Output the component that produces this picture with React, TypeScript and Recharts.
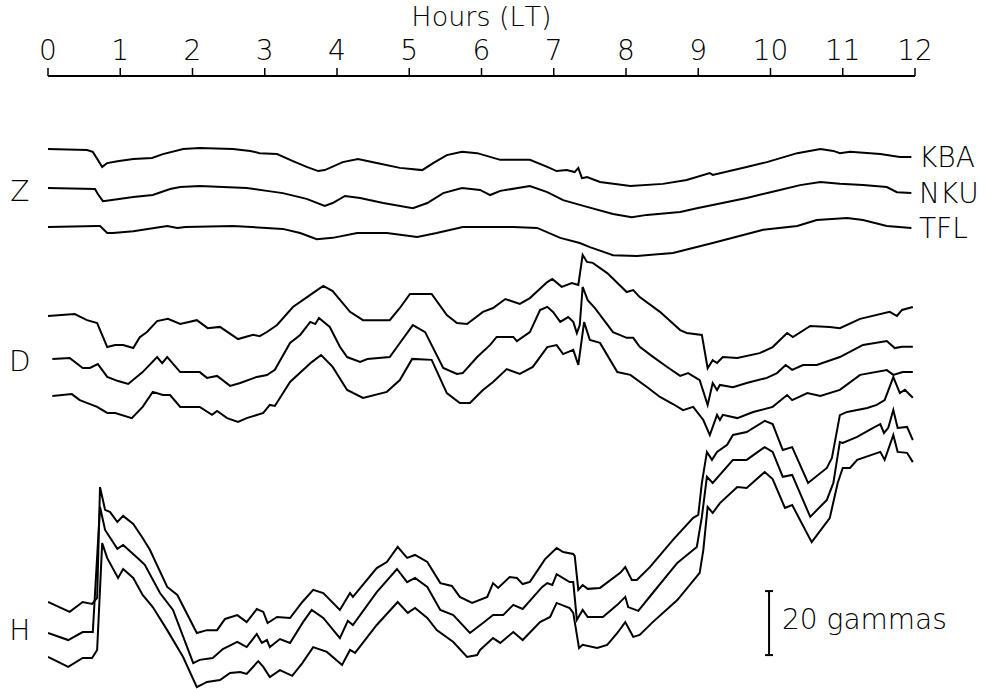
import React from 'react';
import { LineChart, Line, XAxis, YAxis, ReferenceDot, ReferenceLine } from 'recharts';

const FONT = '"DejaVu Sans", "Liberation Sans", sans-serif';

// hours of local time on the top axis
const HOURS = [0, 1, 2, 3, 4, 5, 6, 7, 8, 9, 10, 11, 12];

type Pt = [number, number]; // [hour LT, deflection in gammas from trace baseline]

// ---- Z component ----
const Z_KBA: Pt[] = [
  [0, 0], [0.54, -0.3], [0.62, -0.9], [0.69, -3.4], [0.75, -5.6], [0.82, -4.4], [0.96, -3.8], [1.18, -3.1],
  [1.44, -2.8], [1.59, -1.6], [1.87, 0], [2.1, 0.3], [2.56, 0], [2.8, -0.6], [2.93, -1.3], [3.17, -1.6],
  [3.39, -3.8], [3.58, -5.6], [3.74, -6.9], [3.83, -6.6], [4.08, -4.1], [4.29, -3.1], [4.55, -4.4], [4.87, -5.9],
  [5.18, -6.6], [5.33, -4.4], [5.52, -1.9], [5.73, -0.9], [5.94, -1.3], [6.26, -3.4], [6.67, -3.4], [6.91, -5.6],
  [7.04, -6.9], [7.18, -6.6], [7.29, -7.2], [7.34, -5.9], [7.39, -9.1], [7.46, -8.8], [7.64, -10.3], [8.06, -11.6],
  [8.51, -10.9], [8.84, -9.7], [9.16, -7.5], [9.2, -8.1], [9.67, -5.6], [9.95, -4.1], [10.37, -1.3], [10.69, 0],
  [10.87, -0.6], [10.96, -1.3], [11.1, -0.9], [11.52, -1.6], [11.79, -2.5], [11.95, -2.5],
];
const Z_NKU: Pt[] = [
  [0, 0], [0.65, -0.3], [0.69, -1.9], [0.76, -4.1], [0.86, -3.8], [1.18, -2.8], [1.45, -2.2], [1.69, -0.3],
  [1.83, 0.3], [2.1, 0.6], [2.75, 0], [3.03, -0.9], [3.25, -1.6], [3.58, -3.4], [3.83, -5.6], [3.94, -4.7],
  [4.11, -2.5], [4.32, -3.1], [4.64, -4.7], [5.05, -6.3], [5.25, -4.7], [5.47, -1.6], [5.73, 0], [5.98, -0.6],
  [6.12, -2.2], [6.26, -0.9], [6.67, 0.6], [6.91, -1.3], [7.13, -3.8], [7.46, -5.9], [7.82, -8.1], [8.08, -9.1],
  [8.29, -8.4], [8.75, -7.5], [8.98, -6.3], [9.2, -5.3], [9.67, -3.1], [10.13, -0.6], [10.41, 0.9], [10.69, 1.9],
  [10.96, 1.3], [11.28, 0.9], [11.61, 0.3], [11.75, -1.3], [11.95, -1.6],
];
const Z_TFL: Pt[] = [
  [0, 0], [0.68, 0.3], [0.72, 0.3], [0.82, -1.9], [0.9, -1.9], [1.18, -1.3], [1.65, 0.3], [1.79, -0.3],
  [1.9, 0], [2.56, 0.3], [3.25, -0.6], [3.49, -1.9], [3.72, -3.8], [3.94, -3.4], [4.28, -1.9], [4.69, -1.9],
  [5.11, -3.1], [5.38, -1.9], [5.74, 0], [6.12, 0], [6.44, 0], [6.77, -0.3], [7.09, -3.4], [7.36, -5.0],
  [7.5, -6.3], [7.82, -8.8], [8.15, -9.1], [8.65, -8.1], [9.2, -5.0], [9.9, -0.9], [10.37, 0.3], [10.64, 2.2],
  [11.06, 2.8], [11.28, 2.2], [11.61, 0.3], [11.95, -0.3],
];

// ---- D component ----
const D_KBA: Pt[] = [
  [0, 0], [0.37, 0.6], [0.54, -1.3], [0.68, -2.2], [0.82, -9.7], [0.93, -9.1], [1.04, -9.1], [1.18, -10.0],
  [1.27, -6.6], [1.37, -5.0], [1.51, -1.6], [1.66, -0.9], [1.83, -2.5], [2.06, -1.3], [2.21, -3.8], [2.38, -3.4],
  [2.63, -7.2], [2.84, -5.9], [2.93, -6.3], [3.03, -5.0], [3.17, -2.8], [3.39, 2.8], [3.65, 6.9], [3.81, 9.4],
  [3.94, 7.8], [4.18, 1.3], [4.36, -1.3], [4.73, -1.3], [4.87, 2.5], [5.01, 6.9], [5.31, 6.9], [5.52, 0.3],
  [5.66, -2.2], [5.8, -2.5], [6.02, 1.3], [6.16, 2.5], [6.33, 5.3], [6.53, 3.8], [6.67, 5.6], [6.91, 10.6],
  [6.98, 11.6], [7.11, 9.1], [7.25, 10.3], [7.34, 9.7], [7.4, 19.1], [7.46, 16.9], [7.54, 16.6], [7.74, 13.4],
  [8.01, 7.5], [8.1, 8.1], [8.19, 5.9], [8.47, 1.3], [8.75, -4.4], [8.84, -5.3], [9.05, -5.9], [9.13, -16.3],
  [9.2, -13.8], [9.26, -14.7], [9.34, -12.8], [9.54, -13.1], [9.85, -11.6], [10.03, -9.7], [10.23, -5.3], [10.31, -6.6],
  [10.55, -3.1], [10.82, -3.4], [10.96, -3.8], [11.24, -0.9], [11.65, 1.3], [11.75, 0], [11.82, 1.9], [11.97, 2.8],
];
const D_NKU: Pt[] = [
  [0.06, 0], [0.3, 0.3], [0.48, -2.8], [0.58, -2.8], [0.69, -1.6], [0.82, -5.6], [0.97, -6.9], [1.11, -7.8],
  [1.31, -4.1], [1.51, 0.6], [1.58, -1.3], [1.65, 0.6], [1.83, -4.1], [2.1, -4.1], [2.2, -5.9], [2.34, -5.3],
  [2.52, -8.4], [2.66, -7.5], [2.89, -5.6], [3.03, -5.0], [3.14, -3.4], [3.35, 5.0], [3.49, 7.5], [3.63, 11.6],
  [3.7, 10.9], [3.75, 12.8], [3.9, 10.0], [4.04, 3.8], [4.14, 0.6], [4.32, -0.9], [4.42, 0], [4.73, 0.6],
  [4.87, 5.0], [5.05, 10.6], [5.22, 8.4], [5.47, -2.8], [5.66, -4.7], [5.74, -4.4], [5.94, 0.6], [6.12, 4.4],
  [6.21, 6.9], [6.44, 6.9], [6.49, 5.6], [6.67, 8.4], [6.81, 15.3], [6.91, 16.3], [6.99, 14.7], [7.09, 11.6],
  [7.2, 13.1], [7.27, 11.6], [7.32, 8.1], [7.36, 10.6], [7.4, 22.5], [7.47, 18.4], [7.57, 15.9], [7.82, 8.4],
  [8.01, 6.6], [8.1, 6.6], [8.19, 3.8], [8.36, 0.9], [8.57, -2.5], [8.75, -5.3], [8.86, -4.4], [9.02, -6.6],
  [9.13, -14.4], [9.2, -7.5], [9.26, -9.7], [9.3, -8.1], [9.48, -8.8], [9.67, -7.5], [9.95, -5.9], [10.09, -4.4],
  [10.21, -1.9], [10.3, -3.4], [10.45, -1.9], [10.64, -1.9], [10.96, 0.6], [11.28, 4.4], [11.61, 5.6], [11.72, 3.4],
  [11.82, 3.8], [11.97, 3.8],
];
const D_TFL: Pt[] = [
  [0.06, 0], [0.33, 0.6], [0.44, -1.3], [0.68, -3.4], [0.82, -5.3], [0.93, -5.3], [1.16, -6.9], [1.31, -3.4],
  [1.45, 1.3], [1.59, 0.3], [1.69, 0.3], [1.83, -3.4], [2.1, -3.4], [2.27, -5.9], [2.34, -4.7], [2.48, -6.9],
  [2.63, -8.1], [2.75, -6.9], [2.98, -5.3], [3.07, -2.8], [3.14, -3.1], [3.35, 4.4], [3.65, 10.6], [3.78, 12.8],
  [3.94, 9.1], [4.14, 1.9], [4.36, -0.6], [4.69, 1.3], [4.87, 5.0], [5.04, 11.6], [5.31, 11.3], [5.52, 0.9],
  [5.7, -2.2], [5.84, -2.2], [6.02, 1.9], [6.16, 4.4], [6.35, 8.4], [6.53, 6.9], [6.71, 9.1], [6.91, 15.3],
  [7.04, 15.9], [7.13, 13.1], [7.27, 14.4], [7.34, 9.7], [7.42, 23.1], [7.5, 17.5], [7.64, 16.6], [7.88, 7.5],
  [8.06, 6.6], [8.29, 2.8], [8.47, -0.3], [8.65, -2.5], [8.79, -4.4], [8.93, -3.4], [9.07, -7.5], [9.16, -12.2],
  [9.26, -5.9], [9.3, -7.5], [9.34, -5.9], [9.54, -6.9], [9.76, -5.0], [10.03, -3.4], [10.23, 0.3], [10.3, -1.3],
  [10.51, 0.9], [10.69, 0], [10.96, 1.9], [11.24, 6.6], [11.61, 8.1], [11.7, 6.6], [11.83, 7.5], [11.97, 7.5],
];

// ---- H component ----
const H_KBA: Pt[] = [
  [0, 0], [0.3, -3.1], [0.48, 0], [0.61, -0.6], [0.68, 1.3], [0.72, 35.9], [0.79, 28.8], [0.86, 28.1],
  [0.96, 25.0], [1.04, 26.9], [1.18, 24.4], [1.31, 20.0], [1.41, 16.3], [1.65, 4.7], [1.79, 2.2], [2.06, -9.7],
  [2.2, -8.8], [2.34, -8.8], [2.45, -5.3], [2.62, -4.1], [2.75, -6.3], [2.89, -2.2], [2.98, -3.1], [3.04, -6.6],
  [3.17, -4.7], [3.35, -5.0], [3.52, 0], [3.67, 3.8], [3.81, 2.8], [4.04, -2.5], [4.18, 2.8], [4.22, 1.6],
  [4.55, 10.6], [4.69, 12.5], [4.84, 17.2], [4.97, 13.8], [5.08, 14.7], [5.25, 12.5], [5.43, 5.9], [5.59, 5.0],
  [5.7, 1.6], [5.87, -0.3], [6.08, 1.6], [6.16, 5.9], [6.23, 4.4], [6.39, 7.8], [6.49, 7.5], [6.57, 5.6],
  [6.67, 6.3], [6.88, 13.4], [7.04, 16.9], [7.13, 15.6], [7.27, 15.0], [7.29, 14.4], [7.34, 3.8], [7.4, 5.3],
  [7.47, 4.1], [7.64, 4.4], [7.92, 9.1], [7.99, 10.9], [8.08, 6.9], [8.15, 6.9], [8.33, 10.9], [8.65, 19.4],
  [8.93, 26.3], [9.0, 27.2], [9.05, 37.2], [9.12, 46.9], [9.19, 44.4], [9.26, 46.9], [9.4, 49.1], [9.48, 52.2],
  [9.67, 53.1], [9.92, 56.6], [10.03, 55.6], [10.17, 47.5], [10.3, 48.4], [10.52, 37.2], [10.78, 41.9], [10.85, 45.0],
  [10.96, 58.4], [11.06, 59.4], [11.34, 60.6], [11.47, 61.6], [11.58, 63.1], [11.7, 70.3], [11.79, 65.3], [11.86, 66.3],
  [11.97, 63.8],
];
const H_NKU: Pt[] = [
  [0, 0], [0.28, -2.2], [0.48, 0.3], [0.62, 0.3], [0.72, 39.4], [0.79, 32.2], [0.96, 26.3], [1.04, 27.5],
  [1.27, 22.8], [1.34, 21.3], [1.55, 12.5], [1.73, 7.2], [2.01, -9.4], [2.1, -8.4], [2.28, -7.8], [2.42, -5.0],
  [2.62, -2.8], [2.75, -4.4], [2.89, -0.3], [2.96, -3.1], [3.03, -2.2], [3.07, -4.4], [3.21, -1.9], [3.35, -3.1],
  [3.53, 3.4], [3.65, 7.2], [3.81, 4.7], [4.04, -1.6], [4.15, 3.8], [4.22, 2.5], [4.55, 12.8], [4.83, 20.0],
  [4.97, 15.9], [5.08, 17.2], [5.25, 14.4], [5.43, 7.2], [5.61, 5.6], [5.84, 0], [6.02, 3.1], [6.16, 5.6],
  [6.3, 5.6], [6.44, 8.8], [6.57, 7.5], [6.84, 14.4], [6.91, 15.6], [6.98, 15.0], [7.04, 18.4], [7.22, 15.9],
  [7.27, 15.9], [7.32, 4.1], [7.4, 7.2], [7.47, 5.0], [7.68, 5.0], [7.88, 8.8], [7.99, 11.3], [8.03, 8.1],
  [8.17, 6.9], [8.37, 12.5], [8.71, 21.9], [8.98, 26.9], [9.05, 36.3], [9.12, 48.8], [9.2, 46.9], [9.48, 54.1],
  [9.67, 54.1], [9.92, 58.1], [10.03, 56.6], [10.17, 48.8], [10.3, 49.4], [10.55, 36.3], [10.78, 41.6], [10.87, 46.9],
  [10.96, 59.7], [11.0, 59.4], [11.2, 61.3], [11.42, 64.1], [11.52, 65.3], [11.57, 62.5], [11.63, 64.1], [11.7, 69.7],
  [11.76, 64.1], [11.89, 64.4], [11.97, 60.3],
];
const H_TFL: Pt[] = [
  [0, 0], [0.28, -3.1], [0.48, -0.3], [0.61, -0.3], [0.68, 2.2], [0.75, 35.6], [0.82, 30.9], [0.97, 24.7],
  [1.04, 27.5], [1.18, 24.7], [1.31, 19.4], [1.45, 15.6], [1.65, 8.4], [1.87, 0], [2.06, -9.4], [2.2, -7.8],
  [2.38, -7.2], [2.52, -5.0], [2.66, -4.7], [2.75, -5.3], [2.91, -1.3], [2.98, -3.1], [3.07, -6.3], [3.21, -4.1],
  [3.38, -5.9], [3.52, -1.9], [3.67, 3.1], [3.86, 1.6], [4.07, -2.5], [4.18, 2.2], [4.25, 1.3], [4.55, 10.0],
  [4.84, 17.2], [4.98, 13.8], [5.08, 15.3], [5.25, 12.2], [5.38, 8.4], [5.61, 4.7], [5.8, 0], [5.94, 0.6],
  [5.98, 2.2], [6.16, 5.9], [6.26, 4.4], [6.44, 7.8], [6.57, 5.3], [6.81, 10.9], [6.95, 12.5], [7.04, 16.9],
  [7.22, 15.3], [7.27, 13.8], [7.35, 2.8], [7.4, 3.8], [7.6, 2.8], [7.74, 3.8], [7.88, 7.5], [7.99, 10.9],
  [8.1, 6.3], [8.19, 6.9], [8.37, 10.9], [8.71, 17.8], [9.02, 26.3], [9.07, 33.4], [9.13, 46.9], [9.2, 45.0],
  [9.3, 48.1], [9.54, 53.1], [9.67, 52.8], [9.92, 57.8], [10.03, 55.6], [10.2, 46.6], [10.3, 47.5], [10.57, 35.9],
  [10.82, 43.4], [10.93, 54.4], [11.0, 59.1], [11.1, 59.1], [11.2, 61.6], [11.52, 64.1], [11.58, 61.6], [11.7, 69.4],
  [11.76, 64.1], [11.89, 63.8], [11.97, 60.9],
];

// stacking offsets of each trace on the chart (gammas)
const Z_BASE = [168.75, 156.56, 144.38];
const D_BASE = [116.56, 103.13, 91.56];
const H_BASE = [27.19, 17.5, 10.0];

const STATIONS = ['KBA', 'NKU', 'TFL'];
const PANELS = ['Z', 'D', 'H'];
const PANEL_LABEL_Y = [155.6, 102.5, 18.4];
const PANEL_LABEL_T = -0.39;

// 20-gamma scale bar
const SCALE_T = 9.98;
const SCALE_Y = [10.6, 30.6];
const SCALE_CAP = 0.055;
const SCALE_LABEL_Y = 21.9;

const Y_DOMAIN: [number, number] = [0, 191.56];

const build = (pts: Pt[], base: number) => pts.map(([t, d]) => ({ t, v: base + d }));

const TRACES = [
  { id: 'Z-KBA', data: build(Z_KBA, Z_BASE[0]) },
  { id: 'Z-NKU', data: build(Z_NKU, Z_BASE[1]) },
  { id: 'Z-TFL', data: build(Z_TFL, Z_BASE[2]) },
  { id: 'D-KBA', data: build(D_KBA, D_BASE[0]) },
  { id: 'D-NKU', data: build(D_NKU, D_BASE[1]) },
  { id: 'D-TFL', data: build(D_TFL, D_BASE[2]) },
  { id: 'H-KBA', data: build(H_KBA, H_BASE[0]) },
  { id: 'H-NKU', data: build(H_NKU, H_BASE[1]) },
  { id: 'H-TFL', data: build(H_TFL, H_BASE[2]) },
];

const Z_TRACES = [Z_KBA, Z_NKU, Z_TFL];

const textStyle = { fontSize: 28, fill: '#000', fontFamily: FONT, fontWeight: 200 };

export default function App() {
  return (
    <div
      style={{
        position: 'absolute',
        left: 0,
        top: 0,
        width: 985,
        height: 689,
        background: '#fff',
        fontKerning: 'none',
      }}
    >
      <LineChart
        width={985}
        height={689}
        margin={{ top: 0, right: 70, bottom: 0, left: 48 }}
        style={{ fontFamily: FONT }}
      >
        <XAxis
          dataKey="t"
          type="number"
          orientation="top"
          domain={[0, 12]}
          ticks={HOURS}
          interval={0}
          allowDataOverflow
          height={76}
          tickSize={8}
          tickMargin={8}
          axisLine={{ stroke: '#000', strokeWidth: 2 }}
          tickLine={{ stroke: '#000', strokeWidth: 1.5 }}
          tick={textStyle}
          label={{ value: 'Hours (LT)', position: 'insideTop', offset: 7, ...textStyle, fontSize: 27 }}
        />
        <YAxis type="number" domain={Y_DOMAIN} allowDataOverflow hide />
        {TRACES.map((tr) => (
          <Line
            key={tr.id}
            data={tr.data}
            dataKey="v"
            type="linear"
            stroke="#000"
            strokeWidth={2}
            dot={false}
            activeDot={false}
            isAnimationActive={false}
          />
        ))}
        {STATIONS.map((s, i) => {
          const last = Z_TRACES[i][Z_TRACES[i].length - 1];
          return (
            <ReferenceDot
              key={s}
              x={12}
              y={Z_BASE[i] + last[1]}
              r={0}
              ifOverflow="visible"
              label={{ value: s, position: 'right', offset: 4, ...textStyle }}
            />
          );
        })}
        {PANELS.map((p, i) => (
          <ReferenceDot
            key={p}
            x={PANEL_LABEL_T}
            y={PANEL_LABEL_Y[i]}
            r={0}
            ifOverflow="visible"
            label={{ value: p, position: 'center', ...textStyle }}
          />
        ))}
        <ReferenceLine
          segment={[{ x: SCALE_T, y: SCALE_Y[0] }, { x: SCALE_T, y: SCALE_Y[1] }]}
          stroke="#000"
          strokeWidth={2}
          ifOverflow="visible"
        />
        <ReferenceLine
          segment={[{ x: SCALE_T - SCALE_CAP, y: SCALE_Y[0] }, { x: SCALE_T + SCALE_CAP, y: SCALE_Y[0] }]}
          stroke="#000"
          strokeWidth={2}
          ifOverflow="visible"
        />
        <ReferenceLine
          segment={[{ x: SCALE_T - SCALE_CAP, y: SCALE_Y[1] }, { x: SCALE_T + SCALE_CAP, y: SCALE_Y[1] }]}
          stroke="#000"
          strokeWidth={2}
          ifOverflow="visible"
        />
        <ReferenceDot
          x={SCALE_T}
          y={SCALE_LABEL_Y}
          r={0}
          ifOverflow="visible"
          label={{ value: '20 gammas', position: 'right', offset: 13, ...textStyle }}
        />
      </LineChart>
    </div>
  );
}
